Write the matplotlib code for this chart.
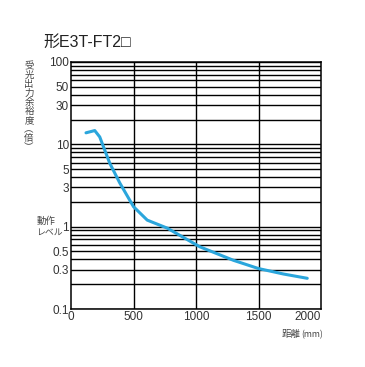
import numpy as np
import matplotlib.pyplot as plt
from matplotlib.ticker import FixedLocator, NullFormatter

plt.rcParams['font.family'] = ['Liberation Sans', 'Noto Sans CJK JP', 'DejaVu Sans']

# curve (distance in mm, margin factor)
distance = [120, 190, 230, 270, 310, 390, 500, 610, 770, 1030, 1300, 1500, 1700, 1890]
margin = [13.8, 14.7, 12.3, 8.5, 5.9, 3.4, 1.75, 1.2, 0.96, 0.57, 0.39, 0.31, 0.266, 0.236]

y_ticks = [0.1, 0.3, 0.5, 1, 3, 5, 10, 30, 50, 100]
y_tick_labels = ['0.1', '0.3', '0.5', '1', '3', '5', '10', '30', '50', '100']
x_ticks = [0, 500, 1000, 1500, 2000]

fig = plt.figure(figsize=(3.65, 3.67), dpi=100)
ax = fig.add_axes([71 / 365, 1 - 309 / 367, 250 / 365, 247 / 367])

ax.set_yscale('log')
ax.set_xlim(0, 2000)
ax.set_ylim(0.1, 100)

# horizontal grid at every 1..9 step of each decade
grid_y = [m * 10.0 ** e for e in range(-1, 2) for m in range(1, 10)] + [100]
for gy in grid_y:
    ax.axhline(gy, color='black', lw=1.0, zorder=1)
for gx in [500, 1000, 1500]:
    ax.axvline(gx, color='black', lw=1.0, zorder=1)

ax.plot(distance, margin, color='#2ba6dc', lw=2.2, zorder=3, solid_capstyle='round')

ax.yaxis.set_major_locator(FixedLocator(y_ticks))
ax.set_yticklabels(y_tick_labels)
ax.yaxis.set_minor_formatter(NullFormatter())
ax.set_xticks(x_ticks)
ax.set_xticklabels([str(v) for v in x_ticks])
ax.tick_params(which='both', length=0, labelsize=8.5, colors='#333333', pad=1.5)
# last x label sits inside the frame like the original
ax.get_xticklabels()[-1].set_horizontalalignment('right')
for sp in ax.spines.values():
    sp.set_linewidth(1.1)

fig.text(43 / 365, 1 - 42 / 367, '形E3T-FT2□', fontsize=11.5, va='center', ha='left',
         color='#222222', family=['Liberation Sans', 'Noto Sans CJK JP'])

# vertical y label, one glyph per row
ylabel = '受光出力余裕度︵倍︶'
for i, ch in enumerate(ylabel):
    fig.text(29 / 365, 1 - (66.5 + 9 * i) / 367, ch, fontsize=6.8, va='center', ha='center',
             color='#444444', family=['Noto Sans CJK JP'])

fig.text(37 / 365, 1 - 221 / 367, '動作', fontsize=6.8, va='center', ha='left',
         color='#444444', family=['Noto Sans CJK JP'])
fig.text(36 / 365, 1 - 232 / 367, 'レベル', fontsize=6.4, va='center', ha='left',
         color='#444444', family=['Noto Sans CJK JP'])

fig.text(282 / 365, 1 - 335 / 367, '距離', fontsize=6.8, va='center', ha='left',
         color='#444444', family=['Noto Sans CJK JP'])
fig.text(323 / 365, 1 - 335 / 367, '(mm)', fontsize=6.3, va='center', ha='right',
         color='#444444', family=['Noto Sans CJK JP'])

fig.savefig('out.png', dpi=100)
